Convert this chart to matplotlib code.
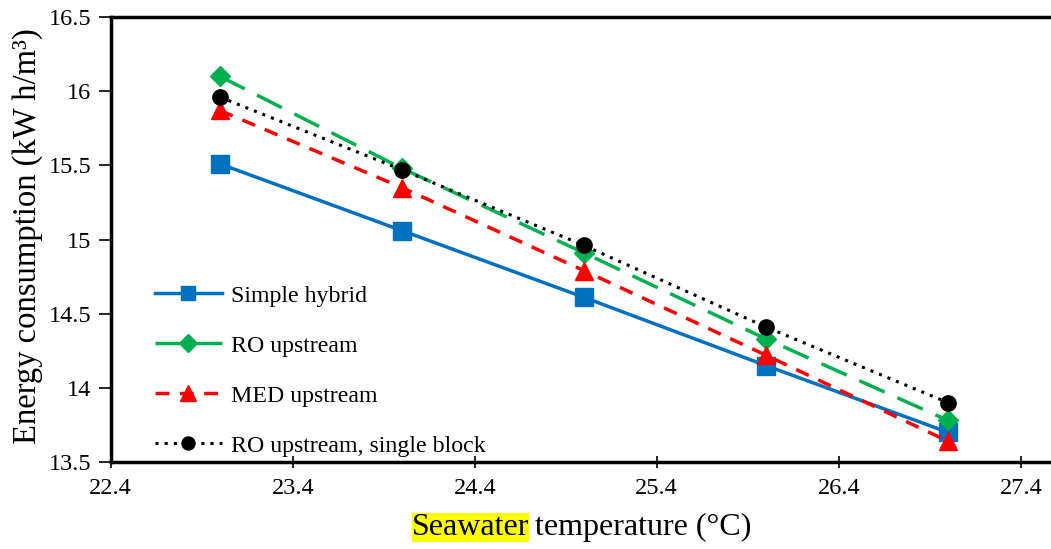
import matplotlib.pyplot as plt

plt.rcParams['font.family'] = ['Liberation Serif', 'DejaVu Serif']

temps = [23, 24, 25, 26, 27]
simple_hybrid = [15.51, 15.06, 14.61, 14.15, 13.70]
ro_upstream = [16.10, 15.48, 14.91, 14.33, 13.78]
med_upstream = [15.87, 15.35, 14.79, 14.22, 13.64]
ro_single = [15.96, 15.47, 14.96, 14.41, 13.90]

labels = ['Simple hybrid', 'RO upstream', 'MED upstream', 'RO upstream, single block']
xticks = [22.4, 23.4, 24.4, 25.4, 26.4, 27.4]
yticks = [13.5, 14, 14.5, 15, 15.5, 16, 16.5]

fig = plt.figure(figsize=(10.51, 5.49), dpi=100)
ax = fig.add_axes([0.1053, 0.1585, 0.8947, 0.8105])

ax.plot(temps, simple_hybrid, color='#0070C0', lw=2.5, marker='s', ms=12.5, label=labels[0])
ax.plot(temps, ro_upstream, color='#00B050', lw=2.5, ls=(0, (8, 4)), marker='D', ms=10.5, label=labels[1])
ax.plot(temps, med_upstream, color='#FF0000', lw=2.5, ls=(0, (4, 3)), marker='^', ms=13, label=labels[2])
ax.plot(temps, ro_single, color='black', lw=2.2, ls=(0, (1, 2)), marker='o', ms=11, label=labels[3])

ax.set_xlim(22.4, 27.566)
ax.set_ylim(13.5, 16.5)
ax.set_xticks(xticks)
ax.set_xticklabels([str(t) for t in xticks])
ax.set_yticks(yticks)
ax.set_yticklabels(['13.5', '14', '14.5', '15', '15.5', '16', '16.5'])
ax.tick_params(axis='x', direction='inout', length=9, width=1.2, labelsize=17.5, pad=7)
ax.tick_params(axis='y', direction='out', length=9, width=1.2, labelsize=17.5, pad=5)

for side in ['left', 'bottom', 'top']:
    ax.spines[side].set_linewidth(2.5)
ax.spines['right'].set_visible(False)

fig.text(28 / 1051, 1 - 236 / 549, 'Energy consumption (kW h/m³)', rotation=90,
         ha='center', va='center', fontsize=23.5)

fig.text(0.5035, 0.04, 'Seawater', ha='right', va='center', fontsize=23,
         bbox=dict(facecolor='yellow', edgecolor='none', pad=0))
fig.text(0.509, 0.04, 'temperature (°C)', ha='left', va='center', fontsize=23)

ax.legend(loc='lower left', bbox_to_anchor=(0.024, -0.036), frameon=False, fontsize=17.2,
          markerscale=0.85, handlelength=2.8, labelspacing=1.18, handletextpad=0.4)

fig.savefig('out.png', dpi=100)
